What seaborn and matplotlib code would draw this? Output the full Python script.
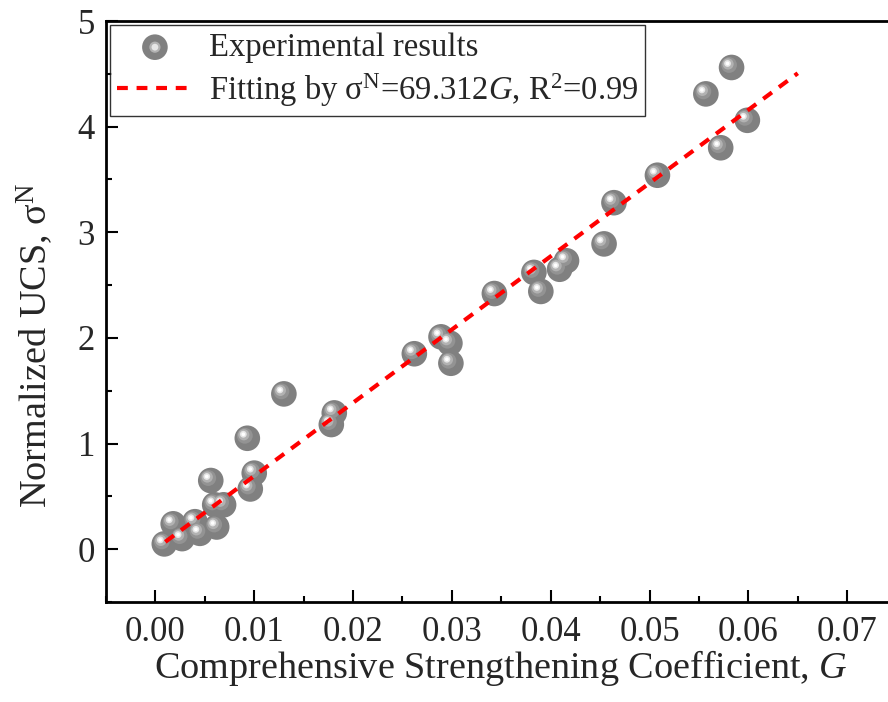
import numpy as np
import pandas as pd
import matplotlib
matplotlib.use("Agg")
import matplotlib.pyplot as plt
import seaborn as sns
from matplotlib.ticker import MultipleLocator, FormatStrFormatter
from matplotlib.transforms import offset_copy
from matplotlib.legend_handler import HandlerTuple

# ---- data ----
G_values = [0.0009, 0.0018, 0.0027, 0.0040, 0.0045, 0.0056, 0.0060, 0.0062, 0.0069,
            0.0093, 0.0096, 0.0100, 0.0130, 0.0178, 0.0181, 0.0262, 0.0289, 0.0298,
            0.0299, 0.0343, 0.0383, 0.0390, 0.0409, 0.0416, 0.0454, 0.0464, 0.0508,
            0.0557, 0.0572, 0.0583, 0.0599]
UCS_values = [0.05, 0.24, 0.10, 0.26, 0.15, 0.65, 0.42, 0.21, 0.42,
              1.05, 0.57, 0.72, 1.47, 1.18, 1.29, 1.85, 2.01, 1.95,
              1.76, 2.42, 2.62, 2.44, 2.65, 2.73, 2.89, 3.28, 3.54,
              4.31, 3.80, 4.56, 4.06]
fit_slope = 69.312
fit_G = [0.001, 0.065]
x_ticks = [0.00, 0.01, 0.02, 0.03, 0.04, 0.05, 0.06, 0.07]
y_ticks = [0, 1, 2, 3, 4, 5]

df = pd.DataFrame({"G": G_values, "UCS": UCS_values})
fit_df = pd.DataFrame({"G": fit_G, "UCS": [fit_slope * g for g in fit_G]})

sns.set_style("white")
plt.rcParams["font.family"] = ["Liberation Serif", "DejaVu Serif"]
plt.rcParams["mathtext.fontset"] = "custom"
plt.rcParams["mathtext.rm"] = "Liberation Serif"
plt.rcParams["mathtext.it"] = "Liberation Serif:italic"

fig = plt.figure(figsize=(8.88, 7.02), dpi=100)
ax = fig.add_axes([106 / 888, 100 / 702, 840 / 888, 581 / 702])

# fitted line
sns.lineplot(data=fit_df, x="G", y="UCS", ax=ax, color="#ff0000", lw=3.0,
             zorder=4, legend=False)
fit_line = ax.lines[-1]
fit_line.set_dashes([2.6, 2.1])
fit_line.set_dash_capstyle("butt")

# sphere-like markers: base + graded highlights
layers = [(340, "#808080", 0, 0), (130, "#939393", -2.5, 2.5),
          (65, "#b2b2b2", -3.5, 3.5), (24, "#e6e6e6", -4, 4), (7, "#ffffff", -4, 4)]
for z, (s, c, dx, dy) in enumerate(layers):
    sns.scatterplot(data=df, x="G", y="UCS", ax=ax, s=s, color=c,
                    edgecolor="none", linewidth=0, zorder=3 + 0.01 * z, legend=False)
    if dx or dy:
        ax.collections[-1].set_offset_transform(
            offset_copy(ax.transData, fig=fig, x=dx, y=dy, units="dots"))

ax.set_xlim(-0.005, 0.08)
ax.set_ylim(-0.5, 5)
ax.set_xticks(x_ticks)
ax.set_yticks(y_ticks)
ax.xaxis.set_major_formatter(FormatStrFormatter("%.2f"))
ax.yaxis.set_major_formatter(FormatStrFormatter("%d"))
ax.xaxis.set_minor_locator(MultipleLocator(0.005))
ax.yaxis.set_minor_locator(MultipleLocator(0.5))
ax.tick_params(axis="both", which="major", direction="in", length=8.5, width=1.5,
               labelsize=25, color="black", bottom=True, left=True, top=False, right=False)
ax.tick_params(axis="both", which="minor", direction="in", length=4.3, width=1.5,
               color="black", bottom=True, left=True, top=False, right=False)
ax.tick_params(axis="x", which="major", pad=10)
ax.tick_params(axis="y", which="major", pad=8)

for sp in ax.spines.values():
    sp.set_color("black")
    sp.set_linewidth(2.0)

ax.set_xlabel("Comprehensive Strengthening Coefficient, $\\it{G}$", fontsize=27.5)
ax.xaxis.set_label_coords(0.470, -0.08)
ax.set_ylabel("Normalized UCS, σ$^{\\rm N}$", fontsize=27.5)
ax.yaxis.set_label_coords(-0.061, 0.442)

# legend
h_parts = []
for s, c, dx, dy in layers[:1] + layers[2:4]:
    h_parts.append(ax.scatter([], [], s=s, color=c, edgecolor="none"))
leg = ax.legend(handles=[tuple(h_parts), fit_line],
                labels=["Experimental results",
                        "Fitting by σ$^{\\rm N}$=69.312$\\it{G}$, R$^{2}$=0.99"],
                handler_map={tuple: HandlerTuple(ndivide=1, pad=0)},
                loc="upper left", bbox_to_anchor=(0.005, 0.993), borderaxespad=0,
                fontsize=23.5, frameon=True, fancybox=False, edgecolor="black",
                handlelength=2.3, labelspacing=0.25, borderpad=0.22, handletextpad=0.5)
leg.get_frame().set_linewidth(1.0)

fig.savefig("out.png", dpi=100, facecolor="white")
